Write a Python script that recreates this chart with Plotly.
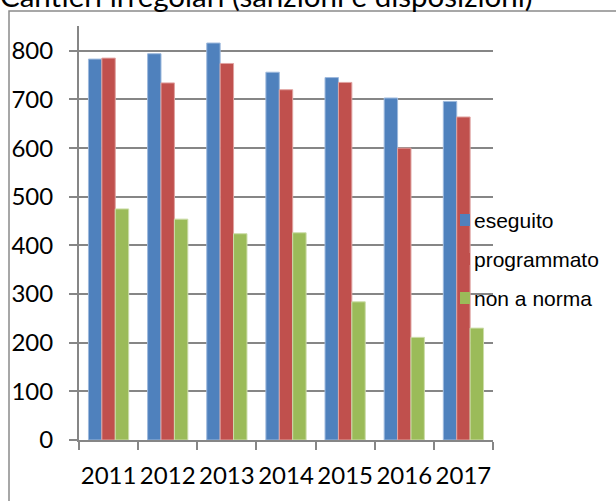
import plotly.graph_objects as go

# Data
years = ["2011", "2012", "2013", "2014", "2015", "2016", "2017"]
eseguito = [783, 794, 816, 756, 745, 703, 696]
programmato = [785, 734, 774, 720, 735, 600, 664]
non_a_norma = [475, 454, 424, 426, 284, 211, 230]

series_names = ["eseguito", "programmato", "non a norma"]
series_values = [eseguito, programmato, non_a_norma]
series_colors = ["#4F81BD", "#C0504D", "#9BBB59"]
edge_colors = ["#9DB9DD", "#E0A3A1", "#CCDDAA"]

title_text = "Cantieri irregolari (sanzioni e disposizioni)"

W, H = 616, 501
ML, MR, MT, MB = 79, 123, 26, 61
PW, PH = W - ML - MR, H - MT - MB


def px_x(x):
    return (x - ML) / PW


def px_y(y):
    return (H - MB - y) / PH


grid = "#868686"
tick_font = dict(family="Lato, Open Sans, sans-serif", size=24, color="#000000")

fig = go.Figure()
for name, vals, col, edge in zip(series_names, series_values, series_colors, edge_colors):
    fig.add_trace(go.Bar(
        x=years, y=vals, name=name,
        marker=dict(color=col, line=dict(color=edge, width=1)),
        showlegend=False,
    ))

fig.update_layout(
    width=W, height=H,
    margin=dict(l=ML, r=MR, t=MT, b=MB, pad=0, autoexpand=False),
    paper_bgcolor="white", plot_bgcolor="white",
    barmode="group", bargap=0.32, bargroupgap=0,
    xaxis=dict(
        type="category", showgrid=False, zeroline=False,
        showline=True, linecolor=grid, linewidth=2,
        ticks="outside", tickson="boundaries", ticklen=8, tickwidth=2, tickcolor=grid,
        tickfont=tick_font, ticklabelstandoff=13, tickangle=0, automargin=False,
    ),
    yaxis=dict(
        range=[0, 851], dtick=100, tick0=0,
        showgrid=True, gridcolor=grid, gridwidth=2,
        zeroline=False, showline=True, linecolor=grid, linewidth=2,
        ticks="outside", ticklen=8, tickwidth=2, tickcolor=grid,
        tickfont=tick_font, ticklabelstandoff=11, automargin=False,
    ),
)

# Outer chart frame
fig.add_shape(type="rect", xref="paper", yref="paper",
              x0=px_x(9), x1=px_x(680), y0=px_y(540), y1=px_y(11),
              line=dict(color="#8a8a8a", width=1.5), fillcolor="rgba(0,0,0,0)", layer="below")

# Title
fig.add_annotation(text=title_text, xref="paper", yref="paper",
                   x=px_x(-1), y=px_y(-4), xanchor="left", yanchor="middle",
                   showarrow=False, borderpad=0,
                   font=dict(family="Lato, Open Sans, sans-serif", size=29.5, color="#000000"))

# Legend
legend_rows = [220, 259, 298]
for name, col, yc in zip(series_names, series_colors, legend_rows):
    fig.add_shape(type="rect", xref="paper", yref="paper",
                  x0=px_x(460), x1=px_x(470), y0=px_y(yc + 6), y1=px_y(yc - 6),
                  line=dict(width=0), fillcolor=col, layer="above")
    fig.add_annotation(text=name, xref="paper", yref="paper",
                       x=px_x(473), y=px_y(yc), xanchor="left", yanchor="middle",
                       showarrow=False, borderpad=0,
                       font=dict(family="Liberation Sans, Arial, sans-serif", size=21, color="#000000"))

fig.write_html("out.html")
